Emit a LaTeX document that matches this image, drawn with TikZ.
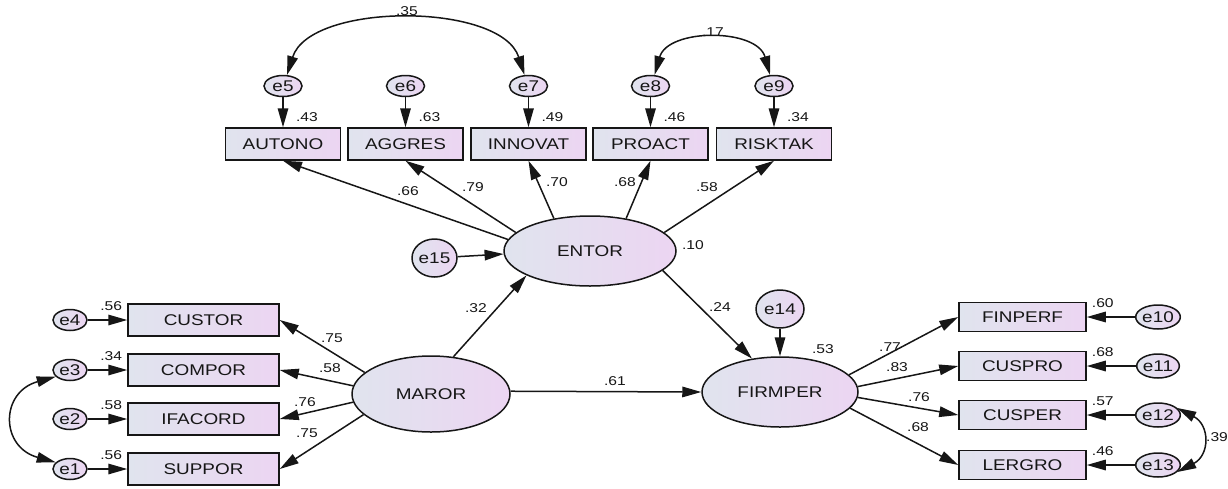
\documentclass[tikz,border=0pt]{standalone}
\usepackage{fontspec}
\setmainfont{Liberation Sans}[FakeStretch=1.22]
\usetikzlibrary{arrows.meta,shapes.geometric,calc}
\definecolor{cl}{HTML}{E0E4EE}
\definecolor{cr}{HTML}{ECD5F2}
\definecolor{ink}{HTML}{161616}
\begin{document}
\begin{tikzpicture}[x=1pt,y=-1pt,
  every node/.style={text=ink},
  bigfont/.style={font=\fontsize{15.5}{16}\selectfont},
  obs/.style={rectangle, draw=ink, line width=1.5pt, left color=cl, right color=cr,
     minimum width=115pt, minimum height=32pt, inner sep=0pt, bigfont},
  obsl/.style={obs, minimum width=151pt},
  obsr/.style={obs, minimum width=127pt, minimum height=29pt},
  lat/.style={ellipse, draw=ink, line width=1.5pt, left color=cl, right color=cr,
     inner sep=0pt, bigfont},
  err/.style={ellipse, draw=ink, line width=1.5pt, left color=cl, right color=cr,
     inner sep=0pt, minimum width=38pt, minimum height=21pt, bigfont},
  lbl/.style={inner sep=0pt, font=\fontsize{12.8}{13}\selectfont},
  arr/.style={draw=ink, line width=1.5pt, -{Triangle[length=19pt,width=10.5pt]}},
  cov/.style={draw=ink, line width=1.5pt, {Triangle[length=19pt,width=10.5pt]}-{Triangle[length=19pt,width=10.5pt]}}
]
\useasboundingbox (0,0) rectangle (1228,488);

% top indicators
\node[obs] (AUTONO)  at (283,144)   {AUTONO};
\node[obs] (AGGRES)  at (405.5,144) {AGGRES};
\node[obs] (INNOVAT) at (528.5,144) {INNOVAT};
\node[obs] (PROACT)  at (650.5,144) {PROACT};
\node[obs] (RISKTAK) at (774,144)   {RISKTAK};
\node[err] (e5) at (283,86)   {e5};
\node[err] (e6) at (405.5,86) {e6};
\node[err] (e7) at (528.5,86) {e7};
\node[err] (e8) at (650.5,86) {e8};
\node[err] (e9) at (774,86)   {e9};

% latent variables
\node[lat, minimum width=172pt, minimum height=70pt] (ENTOR) at (590,251) {ENTOR};
\node[err, minimum width=45pt, minimum height=38pt] (e15) at (434.5,258) {e15};
\node[lat, minimum width=158pt, minimum height=76pt] (MAROR) at (431,394) {MAROR};
\node[lat, minimum width=156pt, minimum height=70pt] (FIRMPER) at (780,392) {FIRMPER};
\node[err, minimum width=48pt, minimum height=38pt] (e14) at (780,309) {e14};

% left indicators
\node[obsl] (CUSTOR)  at (203.5,320) {CUSTOR};
\node[obsl] (COMPOR)  at (203.5,370) {COMPOR};
\node[obsl] (IFACORD) at (203.5,419) {IFACORD};
\node[obsl] (SUPPOR)  at (203.5,469) {SUPPOR};
\node[err, minimum width=34pt] (e4) at (70,320) {e4};
\node[err, minimum width=34pt] (e3) at (70,370) {e3};
\node[err, minimum width=34pt] (e2) at (70,419) {e2};
\node[err, minimum width=34pt] (e1) at (70,469) {e1};

% right indicators
\node[obsr] (FINPERF) at (1022.5,317) {FINPERF};
\node[obsr] (CUSPRO)  at (1022.5,366) {CUSPRO};
\node[obsr] (CUSPER)  at (1022.5,415) {CUSPER};
\node[obsr] (LERGRO)  at (1022.5,465) {LERGRO};
\node[err, minimum width=42pt, minimum height=24pt] (e10) at (1158,317) {e10};
\node[err, minimum width=42pt, minimum height=24pt] (e11) at (1158,366) {e11};
\node[err, minimum width=42pt, minimum height=24pt] (e12) at (1158,415) {e12};
\node[err, minimum width=42pt, minimum height=24pt] (e13) at (1158,465) {e13};

% error arrows
\foreach \e/\b in {e5/AUTONO,e6/AGGRES,e7/INNOVAT,e8/PROACT,e9/RISKTAK,
                   e4/CUSTOR,e3/COMPOR,e2/IFACORD,e1/SUPPOR,
                   e10/FINPERF,e11/CUSPRO,e12/CUSPER,e13/LERGRO}
  \draw[arr] (\e) -- (\b);

% structural / loading arrows
\draw[arr] (ENTOR.172) -- (AUTONO.south);
\draw[arr] (ENTOR.166) -- (AGGRES.south);
\draw[arr] (ENTOR.138) -- (INNOVAT.south);
\draw[arr] (ENTOR.42)  -- (PROACT.south);
\draw[arr] (ENTOR.14)  -- (RISKTAK.south);
\draw[arr] (e15) -- (ENTOR.182);
\draw[arr] (MAROR.59) -- (ENTOR.201);
\draw[arr] (ENTOR.-15) -- (FIRMPER.130);
\draw[arr] (e14) -- (FIRMPER);
\draw[arr] (MAROR.2) -- (FIRMPER.180);
\draw[arr] (MAROR.162) -- (CUSTOR.east);
\draw[arr] (MAROR.174) -- (COMPOR.east);
\draw[arr] (MAROR.186) -- (IFACORD.east);
\draw[arr] (MAROR.197) -- (SUPPOR.east);
\draw[arr] (FIRMPER.14)  -- (FINPERF.west);
\draw[arr] (FIRMPER.4.5) -- (CUSPRO.west);
\draw[arr] (FIRMPER.-4)  -- (CUSPER.west);
\draw[arr] (FIRMPER.-13) -- (LERGRO.west);

% covariances
\draw[cov] (e5.70) .. controls (310,2) and (501,2) .. (e7.110);
\draw[cov] (e8.70) .. controls (668,28) and (757,28) .. (e9.110);
\draw[cov] (e3.205) .. controls (0,392) and (0,447) .. (e1.155);
\draw[cov] (e12.20) .. controls (1210,425) and (1210,455) .. (e13.-20);

% labels
\node[lbl] (l35) at (407,11) {.35};
\node[lbl] (l17) at (713,32) {.17};
\foreach \b/\v in {AUTONO/.43,AGGRES/.63,INNOVAT/.49,PROACT/.46,RISKTAK/.34}
  \node[lbl] at ($(\b.north)+(24,-10)$) {\v};
\foreach \b/\v in {CUSTOR/.56,COMPOR/.34,IFACORD/.58,SUPPOR/.56}
  \node[lbl] at ($(\b.north west)+(-16,3)$) {\v};
\foreach \b/\v in {FINPERF/.60,CUSPRO/.68,CUSPER/.57,LERGRO/.46}
  \node[lbl] at ($(\b.north east)+(16,1)$) {\v};
\node[lbl] (l66) at (408,191) {.66};
\node[lbl] (l79) at (473,187) {.79};
\node[lbl] (l70) at (557,182) {.70};
\node[lbl] (l68a) at (625,182) {.68};
\node[lbl] (l58a) at (707,187) {.58};
\node[lbl] (l10) at (693,245) {.10};
\node[lbl] (l32) at (476,308) {.32};
\node[lbl] (l61) at (615,381) {.61};
\node[lbl] (l24) at (720,307) {.24};
\node[lbl] (l53) at (823,349) {.53};
\node[lbl] (l77) at (890,347) {.77};
\node[lbl] (l83) at (897,367) {.83};
\node[lbl] (l76b) at (919,397) {.76};
\node[lbl] (l68b) at (918,427) {.68};
\node[lbl] (l75a) at (332,338) {.75};
\node[lbl] (l58b) at (330,368) {.58};
\node[lbl] (l76a) at (305,402) {.76};
\node[lbl] (l75b) at (307,433) {.75};
\node[lbl] (l39) at (1217,437) {.39};
\end{tikzpicture}
\end{document}
